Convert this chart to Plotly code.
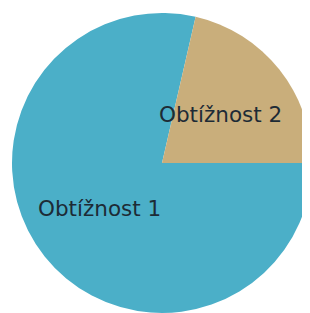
import plotly.graph_objects as go

labels = ["Obtížnost 1", "Obtížnost 2"]
values = [78.6, 21.4]
colors = ["#4BAFC8", "#C9AE7B"]
label_pos = [(0.293, 0.35), (0.695, 0.66)]

fig = go.Figure(go.Pie(
    labels=labels,
    values=values,
    marker=dict(colors=colors, line=dict(width=0)),
    sort=False,
    direction="clockwise",
    rotation=90,
    textinfo="none",
    showlegend=False,
    hoverinfo="label+percent",
))
for lab, (ax, ay) in zip(labels, label_pos):
    fig.add_annotation(
        x=ax, y=ay, xref="paper", yref="paper", text=lab, showarrow=False,
        xanchor="center", yanchor="middle",
        font=dict(family="DejaVu Sans, Verdana", size=21.5, color="#1d2b36"),
    )
fig.update_layout(
    width=310, height=313,
    margin=dict(l=4, r=6, t=5, b=8),
    paper_bgcolor="white",
    showlegend=False,
)
fig.write_html("out.html")
